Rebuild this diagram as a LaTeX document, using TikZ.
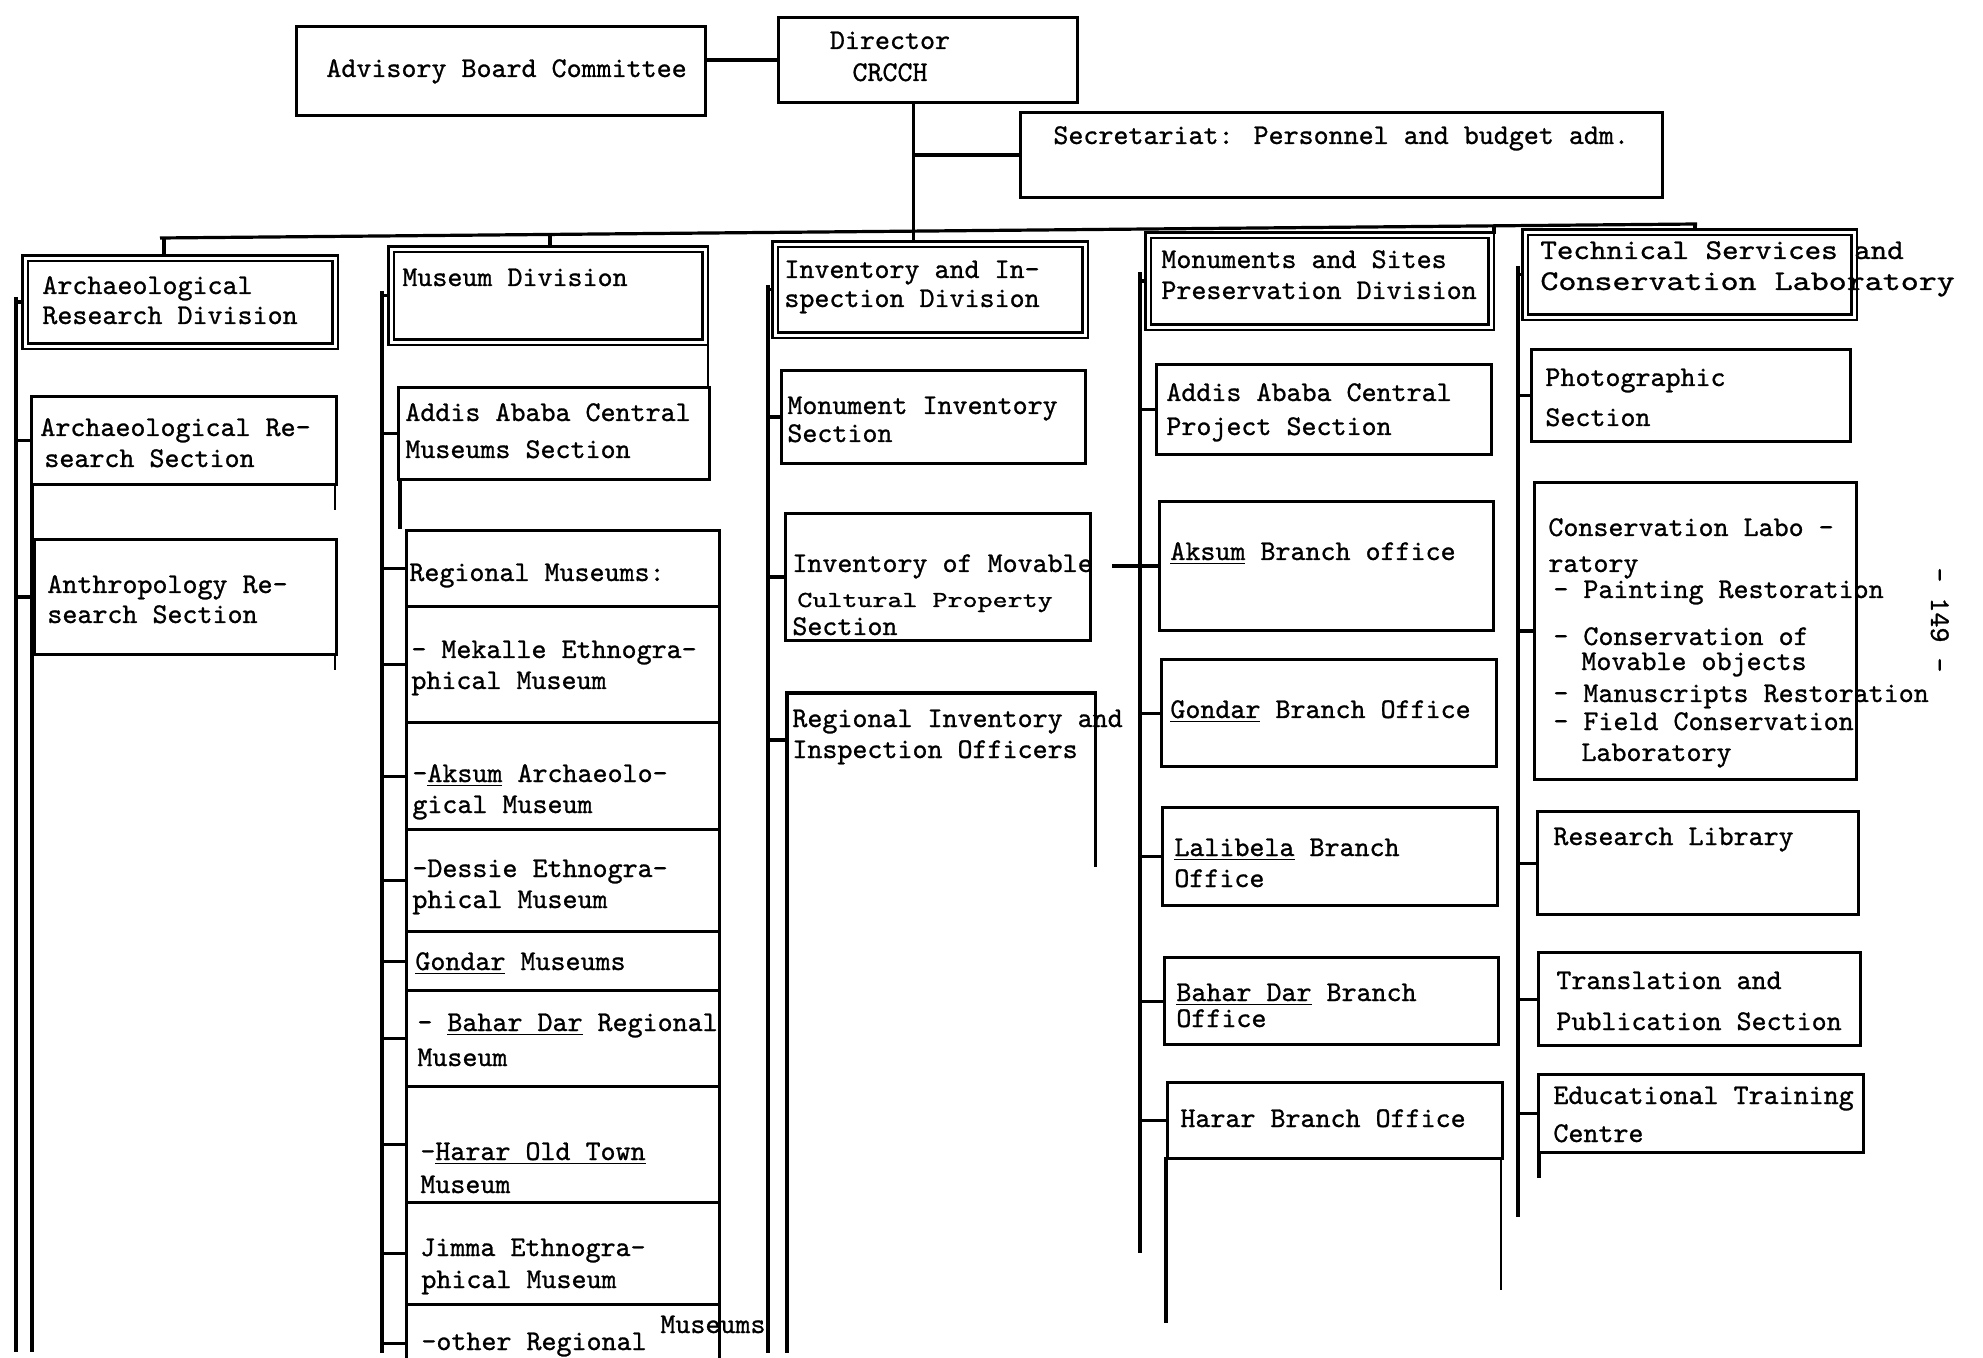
\documentclass[tikz,border=0pt]{standalone}
\usepackage{fontspec}
\newfontfamily\tw{lmmono10-regular.otf}[FakeBold=0.9]
\newcommand\mkbox[6]{\node[#1, minimum width={(#5-#3)*0.5pt}, minimum height={(#6-#4)*0.5pt}] (#2) at (#3,#4) {};}
\newcommand\tl[4]{\node[tx] (#1) at (#2,#3) {#4};}
\begin{document}
\begin{tikzpicture}[x=0.5pt,y=-0.5pt,
  ln/.style={line width=1.6pt},
  thin/.style={line width=0.9pt},
  box/.style={draw, line width=1.6pt, inner sep=0pt, anchor=north west},
  openbox/.style={draw=none, inner sep=0pt, anchor=north west},
  divbox/.style={draw, double, double distance=1.5pt, line width=1.1pt, inner sep=0pt, anchor=north west},
  tx/.style={anchor=west, inner sep=0pt, font=\tw\fontsize{14.3}{16}\selectfont, text height=7pt, text depth=0pt},
]
\useasboundingbox (0,0) rectangle (1983,1358);
\clip (0,0) rectangle (1983,1358);

% ---------- top ----------
\mkbox{box}{adv}{295}{25}{704}{114}
\mkbox{box}{dir}{777}{16}{1076}{101}
\mkbox{box}{sec}{1019}{111}{1661}{196}
\tl{tadv}{326}{70}{Advisory Board Committee}
\node[tx,anchor=center] (tdir1) at (890,42) {Director};
\node[tx,anchor=center] (tdir2) at (890,74) {CRCCH};
\tl{tsec}{1053}{137}{Secretariat: Personnel and budget adm.}

% ---------- division boxes ----------
\mkbox{divbox}{div1}{24}{257}{334}{345}
\mkbox{divbox}{div2}{390}{248}{704}{341}
\mkbox{divbox}{div3}{774}{243}{1084}{334}
\mkbox{divbox}{div4}{1147}{234}{1490}{326}
\mkbox{divbox}{div5}{1524}{231}{1853}{316}

\draw[ln] (dir.west) -- (dir.west -| adv.east);
\coordinate (dv) at ([xshift=-7.5pt]dir.south);
\draw[ln] (dv) -- (dv |- div3.north);
\draw[ln] (sec.west) -- (sec.west -| dv);

\coordinate (busL) at (160,238);
\coordinate (busR) at (1697,224);
\draw[ln] (busL) -- (busR);
\coordinate (bd1) at (164,238);
\coordinate (bd2) at (550,234.5);
\coordinate (bd4) at (1494,225.5);
\coordinate (bd5) at (1695,224);
\draw[ln] (bd1) -- (bd1 |- div1.north);
\draw[ln] (bd2) -- (bd2 |- div2.north);
\draw[ln] (bd4) -- (bd4 |- div4.north);
\draw[ln] (bd5) -- (bd5 |- div5.north);

% ---------- column 1 ----------
\tl{t11}{42}{287}{Archaeological}
\tl{t12}{42}{317}{Research Division}
\mkbox{box}{c1a}{30}{395}{335}{483}
\mkbox{box}{c1b}{33}{538}{335}{653}
\tl{t13}{40}{429}{Archaeological Re-}
\tl{t14}{44}{460}{search Section}
\tl{t15}{47}{586}{Anthropology Re-}
\tl{t16}{47}{616}{search Section}
\coordinate (sp1) at (16,297);
\coordinate (sp1b) at (16,1352);
\draw[ln] (sp1) -- (sp1b);
\foreach \n in {div1,c1a,c1b} \draw[ln] (\n.west) -- (\n.west -| sp1);
\draw[ln] (32,483) -- (32,1352);
\draw[thin] (335,483) -- (335,510);
\draw[thin] (335,653) -- (335,670);

% ---------- column 2 ----------
\tl{t21}{402}{279}{Museum Division}
\mkbox{box}{c2a}{397}{386}{708}{478}
\tl{t22}{405}{414}{Addis Ababa Central}
\tl{t23}{405}{451}{Museums Section}
\mkbox{box}{c2b}{405}{529}{718}{605}
\mkbox{box}{c2c}{405}{605}{718}{721}
\mkbox{box}{c2d}{405}{721}{718}{828}
\mkbox{box}{c2e}{405}{828}{718}{930}
\mkbox{box}{c2f}{405}{930}{718}{989}
\mkbox{box}{c2g}{405}{989}{718}{1085}
\mkbox{box}{c2h}{405}{1085}{718}{1201}
\mkbox{box}{c2i}{405}{1201}{718}{1303}
\mkbox{box}{c2j}{405}{1303}{718}{1380}
\tl{t24}{409}{574}{Regional Museums:}
\tl{t25}{411}{651}{- Mekalle Ethnogra-}
\tl{t26}{411}{682}{phical Museum}
\tl{t27}{412}{775}{-\underline{Aksum} Archaeolo-}
\tl{t28}{412}{806}{gical Museum}
\tl{t29}{412}{870}{-Dessie Ethnogra-}
\tl{t2a}{412}{901}{phical Museum}
\tl{t2b}{415}{963}{\underline{Gondar} Museums}
\tl{t2c}{417}{1024}{- \underline{Bahar Dar} Regional}
\tl{t2d}{417}{1059}{Museum}
\tl{t2e}{420}{1153}{-\underline{Harar Old Town}}
\tl{t2f}{420}{1186}{Museum}
\tl{t2g}{420}{1249}{Jimma Ethnogra-}
\tl{t2h}{421}{1281}{phical Museum}
\tl{t2i}{421}{1343}{-other Regional}
\tl{t2j}{660}{1326}{Museums}
\coordinate (sp2) at (382,291);
\coordinate (sp2b) at (382,1353);
\draw[ln] (sp2) -- (sp2b);
\foreach \n in {div2,c2a,c2b,c2c,c2d,c2e,c2f,c2g,c2h,c2i,c2j} \draw[ln] (\n.west) -- (\n.west -| sp2);
\draw[ln] (400,478) -- (400,529);
\draw[thin] (708,341) -- (708,386);

% ---------- column 3 ----------
\tl{t31}{784}{271}{Inventory and In-}
\tl{t32}{784}{300}{spection Division}
\mkbox{box}{c3a}{780}{369}{1084}{462}
\mkbox{box}{c3b}{784}{512}{1089}{639}
\mkbox{openbox}{c3c}{787}{693}{1095}{866}
\draw[ln] (c3c.south west) -- (c3c.north west) -- (c3c.north east) -- (c3c.south east);
\tl{t33}{787}{407}{Monument Inventory}
\tl{t34}{787}{435}{Section}
\tl{t35}{792}{565}{Inventory of Movable}
\node[tx] (t36) at (797,600) {\scalebox{1}[0.8]{Cultural Property}};
\tl{t37}{792}{628}{Section}
\tl{t38}{792}{720}{Regional Inventory and}
\tl{t39}{792}{751}{Inspection Officers}
\coordinate (sp3) at (768,285);
\coordinate (sp3b) at (768,1353);
\draw[ln] (sp3) -- (sp3b);
\foreach \n in {div3,c3a,c3b} \draw[ln] (\n.west) -- (\n.west -| sp3);
\draw[ln] (c3c.north west |- 0,740) -- (sp3 |- 0,740);
\draw[ln] (787,866) -- (787,1353);

% ---------- column 4 ----------
\tl{t41}{1161}{261}{Monuments and Sites}
\tl{t42}{1161}{292}{Preservation Division}
\mkbox{box}{c4a}{1155}{363}{1490}{453}
\mkbox{box}{c4b}{1158}{500}{1492}{629}
\mkbox{box}{c4c}{1160}{658}{1495}{765}
\mkbox{box}{c4d}{1161}{806}{1496}{904}
\mkbox{box}{c4e}{1163}{956}{1497}{1043}
\mkbox{box}{c4f}{1166}{1081}{1501}{1157}
\tl{t43}{1166}{394}{Addis Ababa Central}
\tl{t44}{1166}{428}{Project Section}
\tl{t45}{1170}{553}{\underline{Aksum} Branch office}
\tl{t46}{1170}{711}{\underline{Gondar} Branch Office}
\tl{t47}{1174}{849}{\underline{Lalibela} Branch}
\tl{t48}{1174}{880}{Office}
\tl{t49}{1176}{994}{\underline{Bahar Dar} Branch}
\tl{t4a}{1176}{1020}{Office}
\tl{t4b}{1180}{1120}{Harar Branch Office}
\coordinate (sp4) at (1140,272);
\coordinate (sp4b) at (1140,1253);
\draw[ln] (sp4) -- (sp4b);
\foreach \n in {div4,c4a,c4c,c4d,c4e,c4f} \draw[ln] (\n.west) -- (\n.west -| sp4);
\draw[ln] (c4b.west) -- ([xshift=-14pt]c4b.west -| sp4);
\draw[ln] (1166,1157) -- (1166,1323);
\draw[thin] (1501,1157) -- (1501,1290);

% ---------- column 5 ----------
\node[tx] (t51) at (1540,252) {\scalebox{1.1}[1]{Technical Services and}};
\node[tx] (t52) at (1540,283) {\scalebox{1.2}[1]{Conservation Laboratory}};
\mkbox{box}{c5a}{1530}{348}{1849}{440}
\mkbox{box}{c5b}{1533}{481}{1855}{778}
\mkbox{box}{c5c}{1536}{810}{1857}{913}
\mkbox{box}{c5d}{1537}{951}{1859}{1044}
\mkbox{box}{c5e}{1537}{1073}{1862}{1151}
\tl{t53}{1545}{379}{Photographic}
\tl{t54}{1545}{419}{Section}
\tl{t55}{1548}{529}{Conservation Labo -}
\tl{t56}{1548}{565}{ratory}
\tl{t57}{1553}{591}{- Painting Restoration}
\tl{t58}{1553}{638}{- Conservation of}
\tl{t59}{1581}{663}{Movable objects}
\tl{t5a}{1553}{695}{- Manuscripts Restoration}
\tl{t5b}{1553}{723}{- Field Conservation}
\tl{t5c}{1581}{754}{Laboratory}
\tl{t5d}{1553}{838}{Research Library}
\tl{t5e}{1556}{982}{Translation and}
\tl{t5f}{1556}{1023}{Publication Section}
\tl{t5g}{1553}{1097}{Educational Training}
\tl{t5h}{1553}{1135}{Centre}
\coordinate (sp5) at (1518,266);
\coordinate (sp5b) at (1518,1217);
\draw[ln] (sp5) -- (sp5b);
\foreach \n in {div5,c5a,c5b,c5c,c5d,c5e} \draw[ln] (\n.west) -- (\n.west -| sp5);
\draw[ln] (1539,1151) -- (1539,1178);

% page number
\node[tx, anchor=center, rotate=-90] (pg) at (1938,620) {- 149 -};
\end{tikzpicture}
\end{document}
